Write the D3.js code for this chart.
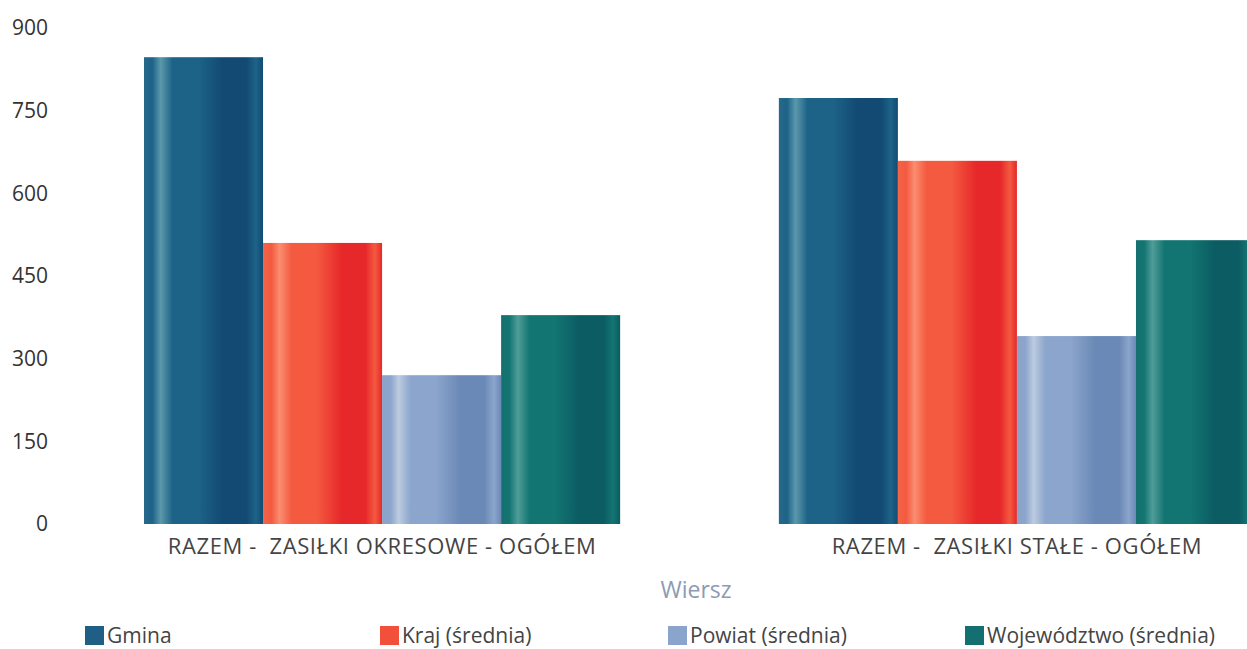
<!DOCTYPE html>
<html><head><meta charset="utf-8">
<script src="https://cdn.jsdelivr.net/npm/d3@7"></script>
<style>body{margin:0;background:#fff}svg{display:block;font-family:"Open Sans","Noto Sans",sans-serif}</style>
</head><body><svg id="c" width="1247" height="649"></svg>
<script>
const categories = ["RAZEM -  ZASIŁKI OKRESOWE - OGÓŁEM", "RAZEM -  ZASIŁKI STAŁE - OGÓŁEM"];
const seriesNames = ["Gmina", "Kraj (średnia)", "Powiat (średnia)", "Województwo (średnia)"];
const gmina = [847, 773];
const kraj = [510, 659];
const powiat = [270, 341];
const wojewodztwo = [379, 515];
const yTicks = [0, 150, 300, 450, 600, 750, 900];
const axisTitle = "Wiersz";

const seriesValues = [gmina, kraj, powiat, wojewodztwo];
const palette = [
  {edge:"#27698a", dark:"#124a73", base:"#1d6388", light:"#5c98ab"},
  {edge:"#f26448", dark:"#e6282a", base:"#f45a40", light:"#fa8d70"},
  {edge:"#8ca2c8", dark:"#6b89b6", base:"#8ba5cc", light:"#bccbe0"},
  {edge:"#167070", dark:"#0b5c63", base:"#137572", light:"#4f9d99"}
];
const legendSwatch = ["#1f5f85", "#f2503a", "#8aa4cc", "#146f70"];
const FONT = '"Open Sans","Noto Sans",sans-serif';

const svg = d3.select("#c");
const defs = svg.append("defs");
palette.forEach((p,i)=>{
  const g = defs.append("linearGradient").attr("id","g"+i).attr("x1","0").attr("x2","1").attr("y1","0").attr("y2","0");
  [[0,p.edge],[0.07,p.base],[0.14,p.light],[0.24,p.base],[0.45,p.base],[0.66,p.dark],[0.86,p.dark],[0.94,p.base],[1,p.dark]]
    .forEach(([o,c])=>g.append("stop").attr("offset",o).attr("stop-color",c));
});

// two groups of 476 px, step 635 px
const x0 = d3.scaleBand().domain(categories).range([144, 1255]).paddingInner(0.25).paddingOuter(0);
const x1 = d3.scaleBand().domain(seriesNames).range([0, x0.bandwidth()]);
const y = d3.scaleLinear().domain([0, 900]).range([524, 28]);

// y axis labels
const yAxis = d3.axisLeft(y).tickValues(yTicks).tickSize(0).tickPadding(0);
const ya = svg.append("g").attr("transform","translate(48,0)").call(yAxis);
ya.attr("font-size",null).attr("font-family",null);
ya.select(".domain").remove();
ya.selectAll("text").style("font-size","21px").attr("fill","#333").style("font-family",FONT);

// bars
const groups = svg.append("g").selectAll("g").data(categories).join("g")
  .attr("transform",d=>`translate(${x0(d)},0)`);
groups.selectAll("rect").data((d,ci)=>seriesNames.map((s,si)=>({s,si,v:seriesValues[si][ci]})))
  .join("rect")
  .attr("x",d=>x1(d.s)).attr("width",x1.bandwidth())
  .attr("y",d=>y(d.v)).attr("height",d=>y(0)-y(d.v))
  .attr("fill",d=>`url(#g${d.si})`);

// x axis labels
const xAxis = d3.axisBottom(x0).tickSize(0).tickPadding(0);
const xa = svg.append("g").attr("transform","translate(0,538)").call(xAxis);
xa.attr("font-size",null).attr("font-family",null);
xa.select(".domain").remove();
xa.selectAll("text").style("font-size","22px").attr("fill","#444").attr("dy","0.71em")
  .style("font-family",FONT).style("white-space","pre").attr("letter-spacing","0.6");

svg.append("text").attr("x",696).attr("y",598).attr("text-anchor","middle")
  .style("font-size","23px").attr("fill","#8d9bb3").text(axisTitle);

// legend
const legendX = [85, 380, 668, 965];
const lg = svg.append("g").selectAll("g").data(seriesNames).join("g")
  .attr("transform",(d,i)=>`translate(${legendX[i]},626)`);
lg.append("rect").attr("width",19).attr("height",19).attr("fill",(d,i)=>legendSwatch[i]);
lg.append("text").attr("x",22).attr("y",17).style("font-size","21px").attr("fill","#444").text(d=>d);
</script></body></html>
